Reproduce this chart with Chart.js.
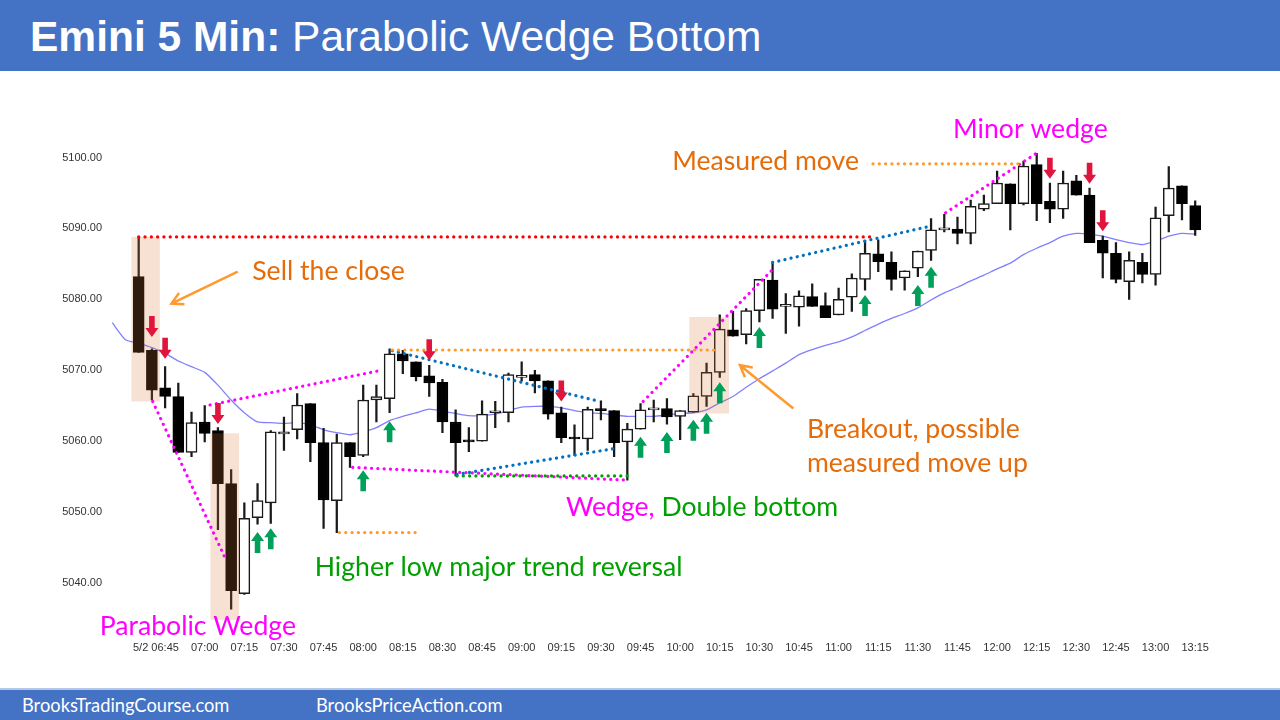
<!DOCTYPE html>
<html>
<head>
<meta charset="utf-8">
<title>Emini 5 Min: Parabolic Wedge Bottom</title>
<script src="https://cdn.jsdelivr.net/npm/chart.js@4.4.1/dist/chart.umd.min.js"></script>
<style>
  html, body { margin: 0; padding: 0; background: #fff; }
  #wrap { position: relative; width: 1280px; height: 720px; overflow: hidden; }
  #chart { position: absolute; left: 0; top: 0; }
  .band { position: absolute; left: 0; width: 1280px; background: #4472c4; color: #fff; }
  #title { top: 0; height: 71px; font-family: "Liberation Sans", Arial, sans-serif; font-size: 42.5px; line-height: 74px; padding-left: 30px; box-sizing: border-box; white-space: nowrap; }
  #footer { top: 688px; height: 32px; border-top: 2px solid #b4c7e7; box-sizing: border-box; font-family: Lato, "Open Sans", sans-serif; font-size: 18.3px; }
  #footer span { position: absolute; top: 4px; }
</style>
</head>
<body>
<div id="wrap">
  <canvas id="chart" width="1280" height="720"></canvas>
  <div class="band" id="title"><b>Emini 5 Min:</b> Parabolic Wedge Bottom</div>
  <div class="band" id="footer">
    <span style="left:22px">BrooksTradingCourse.com</span>
    <span style="left:316px">BrooksPriceAction.com</span>
  </div>
</div>
<script>
// 5 min bars, index 0 = 06:35 bar, last = 13:15
const opens = [5083.2, 5072.8, 5067.5, 5066.3, 5058.4, 5062.7, 5061.5, 5054.0, 5038.5, 5049.2,
  5051.3, 5061.0, 5061.6, 5065.3, 5059.8, 5051.6, 5059.8, 5058.0, 5065.8, 5066.0,
  5072.3, 5071.2, 5069.2, 5068.3, 5062.7, 5060.1, 5060.0, 5064.0, 5064.0, 5069.0,
  5069.4, 5068.5, 5064.0, 5060.5, 5060.3, 5064.5, 5064.3, 5059.9, 5061.7, 5064.4,
  5064.6, 5063.5, 5064.1, 5066.3, 5069.7, 5075.7, 5075.0, 5078.4, 5082.7, 5079.0,
  5078.9, 5080.4, 5079.1, 5077.8, 5080.3, 5082.8, 5086.4, 5085.2, 5083.0, 5084.4,
  5086.9, 5089.8, 5089.9, 5089.3, 5092.7, 5093.5, 5096.3, 5093.5, 5099.0, 5093.8,
  5092.7, 5096.7, 5094.7, 5088.3, 5086.5, 5082.5, 5085.2, 5083.5, 5091.8, 5096.0,
  5093.2];
const highs = [5088.8, 5073.0, 5070.5, 5068.2, 5064.1, 5065.0, 5061.9, 5056.0, 5051.3, 5054.0,
  5061.5, 5063.4, 5066.7, 5065.3, 5061.8, 5061.0, 5059.8, 5067.9, 5067.9, 5073.0,
  5072.8, 5071.2, 5070.7, 5068.7, 5064.4, 5061.9, 5065.7, 5065.6, 5069.6, 5071.2,
  5070.0, 5068.5, 5064.8, 5062.3, 5064.8, 5065.7, 5064.3, 5062.5, 5065.3, 5065.8,
  5066.0, 5064.3, 5066.7, 5071.0, 5077.8, 5078.3, 5078.7, 5082.8, 5085.1, 5080.8,
  5081.2, 5082.2, 5080.9, 5081.6, 5083.6, 5088.3, 5088.4, 5086.7, 5084.0, 5086.8,
  5091.4, 5092.0, 5091.6, 5094.0, 5094.7, 5098.1, 5096.3, 5099.5, 5100.6, 5096.4,
  5098.1, 5097.5, 5095.7, 5088.9, 5088.0, 5086.7, 5086.5, 5093.0, 5098.7, 5096.0,
  5093.9];
const lows = [5072.5, 5065.8, 5064.7, 5058.4, 5057.8, 5059.9, 5047.5, 5036.3, 5038.4, 5048.3,
  5048.4, 5058.7, 5060.3, 5057.1, 5047.7, 5047.1, 5056.3, 5057.8, 5062.7, 5064.0,
  5069.5, 5068.5, 5066.3, 5061.2, 5055.1, 5058.5, 5060.0, 5061.9, 5062.7, 5068.5,
  5066.8, 5063.1, 5059.8, 5058.0, 5058.7, 5063.0, 5057.8, 5054.5, 5061.7, 5062.7,
  5062.4, 5060.2, 5064.1, 5064.9, 5069.0, 5074.8, 5073.7, 5076.8, 5077.3, 5075.2,
  5076.2, 5079.0, 5077.4, 5077.8, 5078.3, 5081.3, 5083.9, 5081.3, 5081.3, 5083.2,
  5085.5, 5089.5, 5087.8, 5087.8, 5092.5, 5093.5, 5089.8, 5093.3, 5091.1, 5090.8,
  5091.4, 5094.7, 5088.0, 5083.0, 5082.3, 5080.0, 5082.3, 5082.0, 5089.5, 5091.2,
  5089.0];
const closes = [5072.5, 5067.2, 5066.3, 5058.4, 5062.6, 5061.1, 5054.0, 5038.9, 5049.1, 5051.6,
  5061.3, 5061.3, 5065.1, 5059.8, 5051.7, 5059.8, 5057.8, 5065.8, 5066.3, 5072.3,
  5071.3, 5069.1, 5068.2, 5062.7, 5059.8, 5059.9, 5063.8, 5064.1, 5069.4, 5069.2,
  5068.5, 5063.8, 5060.5, 5060.3, 5064.5, 5064.3, 5059.8, 5061.7, 5064.4, 5064.5,
  5063.4, 5064.3, 5066.4, 5069.7, 5075.8, 5074.8, 5078.4, 5082.8, 5078.6, 5079.1,
  5080.5, 5079.0, 5077.4, 5080.0, 5083.0, 5086.5, 5085.3, 5082.8, 5084.0, 5086.8,
  5089.8, 5089.9, 5089.3, 5093.1, 5093.5, 5096.4, 5093.5, 5098.8, 5093.5, 5092.7,
  5096.4, 5094.7, 5088.0, 5086.5, 5082.8, 5085.5, 5083.5, 5091.5, 5095.7, 5093.5,
  5089.8];

// 20 bar EMA, starts two bars before the first bar shown
const emaStart = -2;
const ema = [5076.7, 5074.3,
  5073.8, 5073.2, 5072.4, 5071.3, 5070.5, 5069.7, 5067.9, 5065.8, 5064.0, 5062.7,
  5062.6, 5062.5, 5062.6, 5062.3, 5061.6, 5061.2, 5060.9, 5061.3, 5061.9, 5062.9,
  5063.5, 5064.0, 5064.5, 5064.2, 5063.9, 5063.6, 5063.6, 5063.8, 5064.3, 5064.8,
  5064.9, 5064.9, 5064.7, 5064.3, 5064.0, 5063.9, 5063.7, 5063.5, 5063.5, 5063.5,
  5063.7, 5063.9, 5064.0, 5064.4, 5065.4, 5066.3, 5067.6, 5068.8, 5069.9, 5071.0,
  5072.2, 5072.9, 5073.5, 5074.0, 5074.7, 5075.6, 5076.5, 5077.3, 5078.0, 5078.8,
  5079.9, 5080.9, 5081.7, 5082.6, 5083.4, 5084.3, 5085.1, 5086.3, 5087.2, 5088.0,
  5088.9, 5089.3, 5089.2, 5088.9, 5088.4, 5088.0, 5087.7, 5088.2, 5088.9, 5089.3,
  5089.2];

// first label carries trailing spaces so it sits a little left of its bar, as in the original
const timeLabels = ["5/2 06:45      ", "07:00", "07:15", "07:30", "07:45", "08:00", "08:15", "08:30",
  "08:45", "09:00", "09:15", "09:30", "09:45", "10:00", "10:15", "10:30", "10:45", "11:00",
  "11:15", "11:30", "11:45", "12:00", "12:15", "12:30", "12:45", "13:00", "13:15"];
const firstLabelBar = 2;
const labelEvery = 3;
const yTicks = [5040, 5050, 5060, 5070, 5080, 5090, 5100];

// drawn notes, in bar index / price units
const shades = [[-0.55, 1.6, 5088.8, 5065.6], [5.43, 7.6, 5061.1, 5034.8], [41.7, 44.7, 5077.5, 5063.9]];
const dotLines = [
  ["#ff0000", [[0, 5088.8], [55.8, 5088.8]]],
  ["#ff00ff", [[1.06, 5065.6], [6.5, 5043.7]]],
  ["#ff00ff", [[5.4, 5065.1], [18.4, 5070.0]]],
  ["#ff00ff", [[16.2, 5056.3], [37.0, 5054.5]]],
  ["#00a000", [[24.1, 5055.1], [37.0, 5055.1]]],
  ["#0070c0", [[19.2, 5072.75], [34.9, 5065.6]]],
  ["#0070c0", [[24.1, 5055.3], [36.2, 5059.0]]],
  ["#ff9a2e", [[19.2, 5072.85], [43.6, 5072.85]]],
  ["#ff9a2e", [[15.2, 5047.1], [21.4, 5047.1]]],
  ["#ff00ff", [[38.2, 5065.6], [48.0, 5084.2]]],
  ["#0070c0", [[48.0, 5085.2], [55.2, 5088.3], [59.9, 5090.3]]],
  ["#ff00ff", [[61.1, 5092.2], [67.9, 5100.5]]],
  ["#ff9a2e", [[55.6, 5099.1], [67.0, 5099.1]]]
];
const sellArrows = [[1, 5074.7], [2, 5071.6], [6, 5062.4], [22, 5071.4], [32, 5065.6], [69, 5097.0], [72, 5096.3], [73, 5089.6]];
const buyArrows = [[9, 5047.2], [10, 5047.7], [17, 5055.9], [19, 5062.8], [38, 5060.6], [40, 5061.3], [42, 5063.0],
  [43, 5064.0], [44, 5068.3], [47, 5076.1], [55, 5080.6], [59, 5082.0], [60, 5084.6]];
const pointers = [[[7.5, 5083.9], [2.48, 5079.4]], [[49.57, 5064.6], [45.53, 5070.7]]];
const notes = [
  ["Sell the close", "#e46c0a", 8.6, 5083.9],
  ["Parabolic Wedge", "#ff00ff", -2.95, 5033.9],
  ["Higher low major trend reversal", "#00a000", 13.33, 5042.2],
  ["Wedge,", "#ff00ff", 32.35, 5050.6],
  [" Double bottom", "#00a000", null, 5050.6],
  ["Breakout, possible", "#e46c0a", 50.6, 5061.7],
  ["measured move up", "#e46c0a", 50.6, 5056.9],
  ["Measured move", "#e46c0a", 40.4, 5099.4],
  ["Minor wedge", "#ff00ff", 61.67, 5104.0]
];

const bars = opens.map((o, i) => ({ x: i, y: [o, closes[i]] }));
const wicks = lows.map((l, i) => ({ x: i, y: [l, highs[i]] }));
const bull = opens.map((o, i) => closes[i] >= o);
const emaPts = ema.map((v, k) => ({ x: emaStart + k, y: v }));

const notesPlugin = {
  id: "notes",
  afterDatasetsDraw(chart) {
    const { ctx, scales: { x, y } } = chart;
    const px = v => x.getPixelForValue(v);
    const py = v => y.getPixelForValue(v);
    ctx.save();

    ctx.fillStyle = "rgba(214,120,50,0.22)";
    shades.forEach(s => ctx.fillRect(px(s[0]), py(s[2]), px(s[1]) - px(s[0]), py(s[3]) - py(s[2])));

    ctx.lineCap = "round";
    ctx.lineWidth = 3.2;
    ctx.setLineDash([0.1, 6.2]);
    dotLines.forEach(([c, pts]) => {
      ctx.strokeStyle = c;
      ctx.beginPath();
      pts.forEach((p, k) => k ? ctx.lineTo(px(p[0]), py(p[1])) : ctx.moveTo(px(p[0]), py(p[1])));
      ctx.stroke();
    });
    ctx.setLineDash([]);

    // block arrows: 13 wide, 21 tall
    const arrow = (cx, tip, dir, color) => {
      ctx.fillStyle = color;
      ctx.beginPath();
      ctx.moveTo(cx, tip);
      ctx.lineTo(cx + 6.5, tip - dir * 9);
      ctx.lineTo(cx + 2.8, tip - dir * 9);
      ctx.lineTo(cx + 2.8, tip - dir * 21);
      ctx.lineTo(cx - 2.8, tip - dir * 21);
      ctx.lineTo(cx - 2.8, tip - dir * 9);
      ctx.lineTo(cx - 6.5, tip - dir * 9);
      ctx.closePath();
      ctx.fill();
    };
    sellArrows.forEach(a => arrow(px(a[0]), py(a[1]), 1, "#e0143c"));
    buyArrows.forEach(a => arrow(px(a[0]), py(a[1]), -1, "#00a05a"));

    ctx.strokeStyle = "#ff9a2e";
    ctx.lineWidth = 2.5;
    ctx.lineCap = "butt";
    pointers.forEach(([a, b]) => {
      const x0 = px(a[0]), y0 = py(a[1]), x1 = px(b[0]), y1 = py(b[1]);
      const ang = Math.atan2(y1 - y0, x1 - x0);
      ctx.beginPath();
      ctx.moveTo(x0, y0);
      ctx.lineTo(x1, y1);
      ctx.moveTo(x1 - 13 * Math.cos(ang - 0.5), y1 - 13 * Math.sin(ang - 0.5));
      ctx.lineTo(x1, y1);
      ctx.lineTo(x1 - 13 * Math.cos(ang + 0.5), y1 - 13 * Math.sin(ang + 0.5));
      ctx.stroke();
    });

    ctx.font = "26.6px Lato, 'Open Sans', sans-serif";
    ctx.textBaseline = "middle";
    ctx.textAlign = "left";
    let lastEnd = 0;
    notes.forEach(([t, c, xi, yv]) => {
      const left = xi === null ? lastEnd : px(xi);
      ctx.fillStyle = c;
      ctx.fillText(t, left, py(yv));
      lastEnd = left + ctx.measureText(t).width;
    });
    ctx.restore();
  }
};

new Chart(document.getElementById("chart"), {
  type: "bar",
  data: {
    datasets: [
      {
        data: bars,
        grouped: false,
        barThickness: 11,
        minBarLength: 2,
        backgroundColor: bull.map(b => b ? "#ffffff" : "#000000"),
        borderColor: bull.map(b => b ? "#1a1a1a" : "#000000"),
        borderWidth: 1.5,
        borderSkipped: false
      },
      {
        data: wicks,
        grouped: false,
        barThickness: 1.6,
        backgroundColor: "#1a1a1a",
        borderWidth: 0
      },
      {
        type: "line",
        data: emaPts,
        borderColor: "#8080ff",
        borderWidth: 1.3,
        pointRadius: 0,
        tension: 0.2
      }
    ]
  },
  options: {
    responsive: false,
    animation: false,
    events: [],
    layout: { padding: { left: 0, right: 65, top: 143.3, bottom: 64.5 } },
    plugins: { legend: { display: false }, tooltip: { enabled: false } },
    scales: {
      x: {
        type: "linear",
        offset: false,
        min: -2.4,
        max: 81.5,
        grid: { display: false, drawTicks: false, offset: false },
        border: { display: false },
        afterFit: axis => { axis.height = 30; },
        afterBuildTicks: axis => {
          axis.ticks = timeLabels.map((t, k) => ({ value: firstLabelBar + k * labelEvery }));
        },
        ticks: {
          padding: 16,
          maxRotation: 0,
          autoSkip: false,
          color: "#333",
          font: { family: "'Liberation Sans', Arial", size: 11 },
          callback: (v, k) => timeLabels[k]
        }
      },
      y: {
        min: 5034,
        max: 5102,
        grid: { display: false, drawTicks: false },
        border: { display: false },
        afterFit: axis => { axis.width = 107; },
        afterBuildTicks: axis => { axis.ticks = yTicks.map(v => ({ value: v })); },
        ticks: {
          padding: 5,
          color: "#333",
          font: { family: "'Liberation Sans', Arial", size: 11 },
          callback: v => v.toFixed(2)
        }
      }
    }
  },
  plugins: [notesPlugin]
});
</script>
</body>
</html>
